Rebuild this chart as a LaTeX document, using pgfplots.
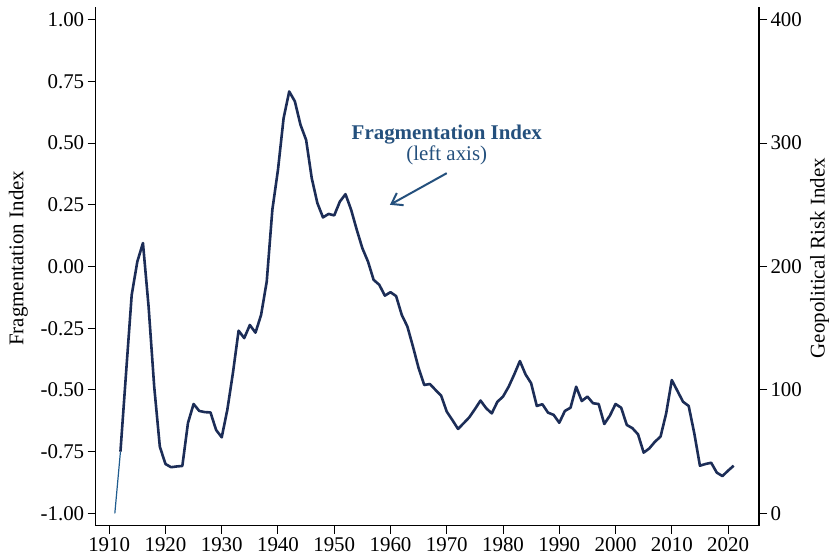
\documentclass[border=0pt]{standalone}
\usepackage{fontspec}
\setmainfont{Liberation Serif}
\usepackage{pgfplots}
\pgfplotsset{compat=1.18}
\usetikzlibrary{arrows.meta}
\definecolor{navy}{HTML}{1C2D57}
\definecolor{annot}{HTML}{24507D}
\definecolor{lead}{HTML}{1F5C8F}

\pgfplotsset{
  common/.style={
    at={(0,0)}, anchor=south west,
    width=663.3bp, height=518.4bp, scale only axis,
    xmin=1907.6, xmax=2025.5,
    axis line style={line width=1.1bp, -},
    tick style={line width=1bp, black},
    major tick length=8bp, tick align=outside,
    /pgf/number format/assume math mode=true,
    /pgf/number format/1000 sep={},
    tick label style={font=\fontsize{21}{25}\selectfont},
    label style={font=\fontsize{21}{25}\selectfont},
  }
}

\begin{document}
\begin{tikzpicture}
\path[use as bounding box] (-95.7bp,-32.3bp) rectangle (735.3bp,525.7bp);
\begin{axis}[common,
  ymin=-1.05, ymax=1.05,
  axis x line*=bottom, axis y line*=left,
  xtick={1910,1920,1930,1940,1950,1960,1970,1980,1990,2000,2010,2020},
  ytick={-1,-0.75,-0.5,-0.25,0,0.25,0.5,0.75,1},
  yticklabels={-1.00,-0.75,-0.50,-0.25,0.00,0.25,0.50,0.75,1.00},
  ylabel={Fragmentation Index},
  ylabel style={at={(axis description cs:-0.1164,0.516)}, anchor=center},
]
\addplot[lead, line width=1.2bp] coordinates {(1911,-1.0) (1912,-0.75)};
\addplot[navy, line width=2.6bp, line join=round] coordinates {
(1912,-0.750) (1913,-0.430) (1914,-0.115) (1915,0.020) (1916,0.095)
(1917,-0.162) (1918,-0.487) (1919,-0.730) (1920,-0.800) (1921,-0.813)
(1922,-0.810) (1923,-0.808) (1924,-0.634) (1925,-0.557) (1926,-0.585)
(1927,-0.590) (1928,-0.591) (1929,-0.662) (1930,-0.692) (1931,-0.580)
(1932,-0.430) (1933,-0.260) (1934,-0.290) (1935,-0.237) (1936,-0.268)
(1937,-0.196) (1938,-0.061) (1939,0.230) (1940,0.392) (1941,0.601)
(1942,0.709) (1943,0.669) (1944,0.574) (1945,0.513) (1946,0.358)
(1947,0.257) (1948,0.199) (1949,0.213) (1950,0.207) (1951,0.263)
(1952,0.293) (1953,0.230) (1954,0.149) (1955,0.074) (1956,0.020)
(1957,-0.054) (1958,-0.074) (1959,-0.118) (1960,-0.104) (1961,-0.120)
(1962,-0.196) (1963,-0.243) (1964,-0.325) (1965,-0.412) (1966,-0.480)
(1967,-0.476) (1968,-0.500) (1969,-0.523) (1970,-0.588) (1971,-0.622)
(1972,-0.658) (1973,-0.635) (1974,-0.611) (1975,-0.578) (1976,-0.543)
(1977,-0.574) (1978,-0.595) (1979,-0.548) (1980,-0.527) (1981,-0.487)
(1982,-0.437) (1983,-0.383) (1984,-0.437) (1985,-0.473) (1986,-0.565)
(1987,-0.558) (1988,-0.592) (1989,-0.601) (1990,-0.633) (1991,-0.585)
(1992,-0.572) (1993,-0.487) (1994,-0.545) (1995,-0.527) (1996,-0.554)
(1997,-0.557) (1998,-0.638) (1999,-0.604) (2000,-0.557) (2001,-0.572)
(2002,-0.642) (2003,-0.655) (2004,-0.680) (2005,-0.754) (2006,-0.737)
(2007,-0.710) (2008,-0.689) (2009,-0.595) (2010,-0.460) (2011,-0.504)
(2012,-0.548) (2013,-0.565) (2014,-0.676) (2015,-0.807) (2016,-0.800)
(2017,-0.795) (2018,-0.835) (2019,-0.849) (2020,-0.827) (2021,-0.807)
};
\node[annot, font=\fontsize{21}{25}\selectfont\bfseries] at (axis cs:1970,0.534) {Fragmentation Index};
\node[annot, font=\fontsize{21}{25}\selectfont] at (axis cs:1970,0.452) {(left axis)};
\draw[annot, line width=2bp, -{Straight Barb[length=10bp,width=14bp,line width=2bp]}] (axis cs:1970,0.378) -- (axis cs:1959.9,0.250);
\end{axis}
\begin{axis}[common,
  ymin=-10, ymax=410,
  axis x line=none, axis y line*=right,
  ytick={0,100,200,300,400},
  ylabel={Geopolitical Risk Index},
  ylabel style={at={(axis description cs:1.0912,0.516)}, anchor=center, rotate=0},
]
\end{axis}
\end{tikzpicture}
\end{document}
